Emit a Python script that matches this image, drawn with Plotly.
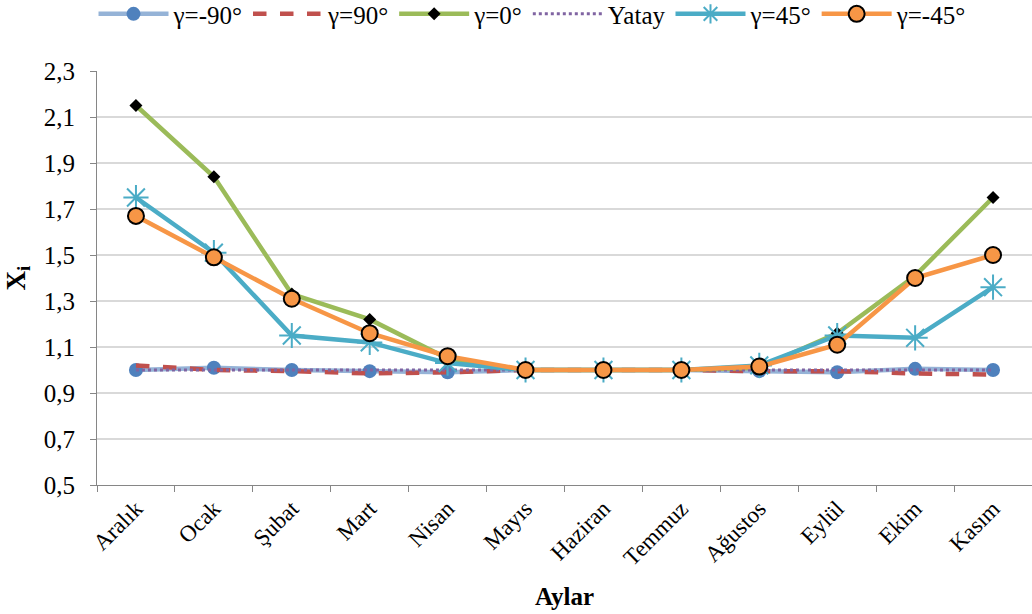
import plotly.graph_objects as go

months = ["Aralık", "Ocak", "Şubat", "Mart", "Nisan", "Mayıs", "Haziran",
          "Temmuz", "Ağustos", "Eylül", "Ekim", "Kasım"]

g_m90 = [1.00, 1.01, 1.00, 0.995, 0.99, 1.00, 1.00, 1.00, 0.995, 0.99, 1.005, 1.00]
g_90 = [1.02, 1.00, 0.995, 0.985, 0.99, 1.00, 1.00, 1.00, 0.995, 0.995, 0.985, 0.98]
g_0 = [2.15, 1.84, 1.33, 1.22, 1.05, 1.00, 1.00, 1.00, 1.01, 1.16, 1.41, 1.75]
yatay = [1.00] * 12
g_45 = [1.75, 1.51, 1.15, 1.12, 1.03, 1.00, 1.00, 1.00, 1.02, 1.15, 1.14, 1.36]
g_m45 = [1.67, 1.49, 1.31, 1.16, 1.06, 1.00, 1.00, 1.00, 1.015, 1.11, 1.40, 1.50]

fig = go.Figure()

fig.add_trace(go.Scatter(
    x=months, y=g_m90, name="γ=-90°", mode="lines+markers",
    line=dict(color="#95B3D7", width=4.5),
    marker=dict(symbol="circle", size=14, color="#4F81BD"),
))
fig.add_trace(go.Scatter(
    x=months, y=g_90, name="γ=90°", mode="lines",
    line=dict(color="#C0504D", width=4.5, dash="dash"),
))
fig.add_trace(go.Scatter(
    x=months, y=g_0, name="γ=0°", mode="lines+markers",
    line=dict(color="#9BBB59", width=4.5),
    marker=dict(symbol="diamond", size=10, color="#000000"),
))
fig.add_trace(go.Scatter(
    x=months, y=yatay, name="Yatay", mode="lines",
    line=dict(color="#8064A2", width=3, dash="dot"),
))
fig.add_trace(go.Scatter(
    x=months, y=g_45, name="γ=45°", mode="lines+markers",
    line=dict(color="#4BACC6", width=4.5),
    marker=dict(symbol="asterisk-open", size=21,
                line=dict(color="#4BACC6", width=2)),
))
fig.add_trace(go.Scatter(
    x=months, y=g_m45, name="γ=-45°", mode="lines+markers",
    line=dict(color="#F79646", width=4.5),
    marker=dict(symbol="circle", size=16, color="#F79646",
                line=dict(color="#000000", width=2)),
))

serif = "Liberation Serif, serif"

fig.update_layout(
    width=1032, height=614,
    margin=dict(l=97, r=0, t=71, b=129),
    paper_bgcolor="white", plot_bgcolor="white",
    separators=",.",
    font=dict(family=serif, size=22, color="#000000"),
    showlegend=True,
    legend=dict(
        orientation="h", x=0.516, xanchor="center", xref="container",
        y=0.977, yanchor="middle", yref="container",
        itemwidth=70,
        font=dict(size=25, family=serif),
        traceorder="normal", bgcolor="rgba(0,0,0,0)",
    ),
    xaxis=dict(
        type="category", range=[-0.5, 11.5],
        showgrid=False,
        showline=True, linecolor="#868686", linewidth=1,
        ticks="outside", tickson="boundaries", ticklen=6, tickcolor="#868686",
        tickangle=-45,
        tickfont=dict(size=23, family=serif),
        title=dict(text="<b>Aylar</b>", font=dict(size=25, family=serif), standoff=18),
    ),
    yaxis=dict(
        range=[0.5, 2.3], dtick=0.2, tick0=0.5, tickformat=".1f",
        showgrid=True, gridcolor="#D9D9D9", gridwidth=1.5,
        showline=True, linecolor="#868686", linewidth=1,
        ticks="outside", ticklen=6, tickcolor="#868686",
        ticklabelstandoff=10,
        tickfont=dict(size=25, family=serif),
        zeroline=False,
        title=dict(text="<b>X<sub>i</sub></b>", font=dict(size=27, family=serif), standoff=10),
    ),
)

fig.write_html("out.html")
